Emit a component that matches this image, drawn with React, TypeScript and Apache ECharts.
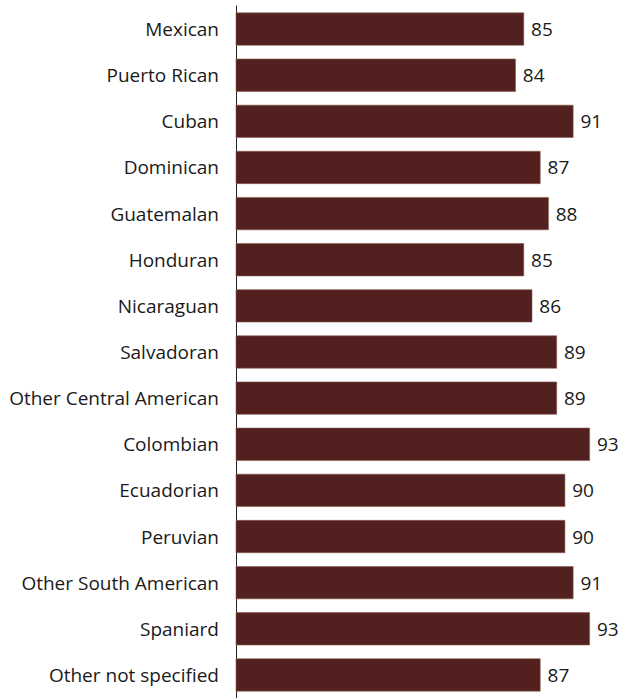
import React, { useEffect, useRef } from "react";
import * as echarts from "echarts";

const categories = [
  "Mexican",
  "Puerto Rican",
  "Cuban",
  "Dominican",
  "Guatemalan",
  "Honduran",
  "Nicaraguan",
  "Salvadoran",
  "Other Central American",
  "Colombian",
  "Ecuadorian",
  "Peruvian",
  "Other South American",
  "Spaniard",
  "Other not specified",
];
const values = [85, 84, 91, 87, 88, 85, 86, 89, 89, 93, 90, 90, 91, 93, 87];

export default function App() {
  const ref = useRef<HTMLDivElement>(null);
  useEffect(() => {
    document.body.style.margin = "0";
    const chart = echarts.init(ref.current!, null, { renderer: "svg" });
    chart.setOption({
      animation: false,
      grid: { left: 236, right: 5.4, top: 6, bottom: -2, containLabel: false },
      xAxis: {
        type: "value",
        min: 50,
        max: 96,
        show: false,
      },
      yAxis: {
        type: "category",
        data: categories,
        inverse: true,
        axisLine: { show: true, lineStyle: { color: "#222", width: 1 } },
        axisTick: { show: false },
        axisLabel: {
          color: "#1a1a1a",
          fontSize: 19,
          fontFamily: "Open Sans",
          margin: 17,
        },
      },
      series: [
        {
          type: "bar",
          data: values,
          barWidth: 33,
          itemStyle: { color: "#52211f", borderColor: "#8a5a4e", borderWidth: 0.6 },
          label: {
            show: true,
            position: "right",
            distance: 7,
            color: "#1a1a1a",
            fontSize: 19,
            fontFamily: "Open Sans",
          },
        },
      ],
    });
    return () => chart.dispose();
  }, []);
  return (
    <div
      ref={ref}
      style={{ position: "fixed", left: 0, top: 0, width: 620, height: 698, background: "#fff" }}
    />
  );
}
